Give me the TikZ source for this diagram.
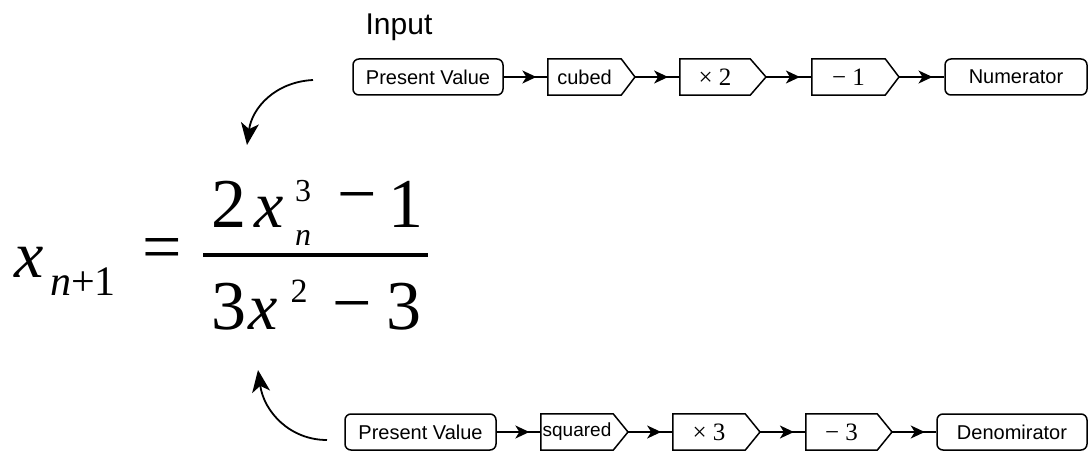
\documentclass[tikz,border=0pt]{standalone}
\usepackage{fontspec}
\setmainfont{Liberation Serif}
\setsansfont{Liberation Sans}
\usetikzlibrary{arrows.meta,decorations.markings}
\newcommand{\mychev}[6]{%
  \node[chev, minimum width={#3pt-#2pt}] (#1) at ({(#2+#3)/2},#5) {#6};
  \draw[line width=1.5pt, line join=miter] (#1.north west) -- (#1.north east) -- (#4,#5) -- (#1.south east) -- (#1.south west) -- cycle;
  \coordinate (#1tip) at (#4,#5);
}
\newcommand{\mth}{\rmfamily\fontsize{25}{28}\selectfont}
\tikzset{
  lbl/.style={font=\sffamily\fontsize{20}{24}\selectfont},
  rbox/.style={draw, rounded corners=6pt, line width=1.5pt, minimum height=36pt, inner sep=0pt, lbl},
  chev/.style={minimum height=36pt, inner sep=0pt},
  flow/.style={line width=1.5pt, postaction={decorate},
    decoration={markings, mark=at position 0.74 with {\arrow{Stealth[length=14pt,width=13pt,inset=4pt]}}}},
  bendarrow/.style={line width=1.8pt, -{Stealth[length=22pt,width=18pt,inset=6pt]}},
  big/.style={inner sep=0pt, font=\rmfamily\fontsize{70}{70}\selectfont},
  bigx/.style={inner sep=0pt, font=\rmfamily\itshape\fontsize{66}{66}\selectfont},
  mid/.style={inner sep=0pt, font=\rmfamily\fontsize{42}{42}\selectfont},
  small/.style={inner sep=0pt, font=\rmfamily\fontsize{34}{34}\selectfont},
  stack/.style={inner sep=0pt, align=center, font=\rmfamily\fontsize{32}{44}\selectfont},
}
\begin{document}
\begin{tikzpicture}[x=1pt,y=-1pt]
\useasboundingbox (0,0) rectangle (1089,457);

% Input label
\node[inner sep=0pt, font=\sffamily\fontsize{30}{30}\selectfont, anchor=base] (inp) at (399,35) {Input};

% top row
\node[rbox, minimum width=150pt] (p1) at (428,77) {Present Value};
\mychev{c1}{548}{621}{635}{77}{\sffamily\fontsize{20}{24}\selectfont cubed}
\mychev{m1}{680}{750}{766}{77}{\mth × 2}
\mychev{s1}{812}{885}{899}{77}{\mth − 1}
\node[rbox, minimum width=142pt] (num) at (1016,77) {Numerator};
\draw[flow] (p1.east) -- (c1.west);
\draw[flow] (c1tip) -- (m1.west);
\draw[flow] (m1tip) -- (s1.west);
\draw[flow] (s1tip) -- (num.west);

% bottom row
\node[rbox, minimum width=151pt] (p2) at (420.5,432) {Present Value};
\mychev{c2}{541}{613}{628}{432}{\sffamily\fontsize{19}{24}\selectfont squared}
\mychev{m2}{673}{745}{760}{432}{\mth × 3}
\mychev{s2}{806}{877}{892}{432}{\mth − 3}
\node[rbox, minimum width=150pt] (den) at (1012,432) {Denomirator};
\draw[flow] (p2.east) -- (c2.west);
\draw[flow] (c2tip) -- (m2.west);
\draw[flow] (m2tip) -- (s2.west);
\draw[flow] (s2tip) -- (den.west);

% equation
\node[bigx, anchor=base] (lx) at (29,277) {x};
\node[mid, anchor=base] (lsub) at (83,295) {\itshape n\upshape+1};
\node[big, anchor=center] (eq) at (162,255) {=};
\draw[line width=4pt] (203,255) -- (428,255);
\node[big, anchor=base] (n2) at (229,227) {2};
\node[bigx, anchor=base] (nx) at (269,227) {x};
\node[stack, anchor=south] (nss) at (303,246) {3\\\itshape n};
\node[big, anchor=center] (nmin) at (357.5,205) {−};
\node[big, anchor=base] (n1) at (406,227) {1};
\node[big, anchor=base] (d3) at (229,329) {3};
\node[bigx, anchor=base] (dx) at (263,329) {x};
\node[small, anchor=base] (dsup) at (299,302) {2};
\node[big, anchor=center] (dmin) at (352.5,314) {−};
\node[big, anchor=base] (d3b) at (404,329) {3};

% curved arrows
\coordinate (a1s) at (313,80);
\coordinate (a1e) at (247,145);
\draw[bendarrow] (a1s) .. controls (275,82) and (252,108) .. (a1e);
\coordinate (a2s) at (327,440);
\coordinate (a2e) at (258,370);
\draw[bendarrow] (a2s) .. controls (290,440) and (264,412) .. (a2e);
\end{tikzpicture}
\end{document}
